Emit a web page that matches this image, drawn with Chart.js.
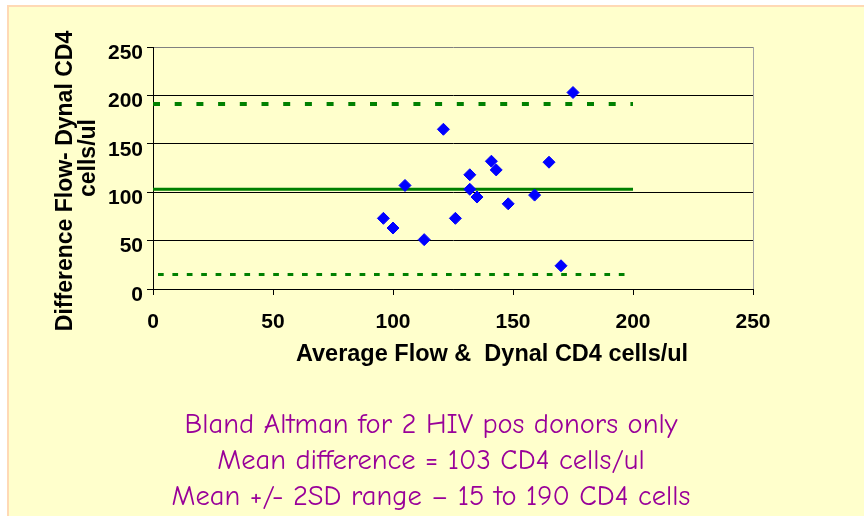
<!DOCTYPE html>
<html>
<head>
<meta charset="utf-8">
<script src="https://cdn.jsdelivr.net/npm/chart.js@4.4.1/dist/chart.umd.min.js"></script>
<style>
    html, body { margin: 0; padding: 0; background: #ffffff; }
    body { width: 864px; height: 516px; position: relative; overflow: hidden; }
    #panel {
        position: absolute; left: 7px; top: 5px; width: 880px; height: 530px;
        background: #FFFFCC;
        border-left: 2px solid #FFD9B5; border-top: 2px solid #FFD9B5;
    }
    #chartBox { position: absolute; left: 0; top: 0; width: 864px; height: 516px; }
    #caption {
        position: absolute; left: 0; top: 406px; width: 862px;
        text-align: center; color: #990099;
        font-family: "Comic Sans MS", "Comic Neue", "DejaVu Sans", sans-serif;
        font-size: 28.5px; line-height: 36px;
    }
</style>
</head>
<body>
<div id="panel"></div>
<div id="chartBox"><canvas id="baChart" width="864" height="516"></canvas></div>
<div id="caption">
    <div>Bland Altman for 2 HIV pos donors only</div>
    <div>Mean difference = 103 CD4 cells/ul</div>
    <div>Mean +/- 2SD range &ndash; 15 to 190 CD4 cells</div>
</div>
<script>
// --- data ---
const avgFlowDynal  = [175, 121, 141, 143, 165, 132, 105, 132, 135, 159, 148, 96, 100, 126, 113, 170];
const diffFlowDynal = [203, 165, 132, 123, 131, 118, 107, 103, 95, 97, 88, 73, 63, 73, 51, 24];
const meanDiff = 103;
const upperLimit = 191;
const lowerLimit = 15;
const limitRange = [0, 200];
const axisMin = 0, axisMax = 250, axisStep = 50;

const xTitle = 'Average Flow &  Dynal CD4 cells/ul';
const yTitle = ['Difference Flow- Dynal CD4', 'cells/ul'];

const points = avgFlowDynal.map((x, i) => ({ x: x, y: diffFlowDynal[i] }));
const hLine = (y) => limitRange.map(x => ({ x: x, y: y }));

const tickFont = { family: "'Liberation Sans', Arial, sans-serif", size: 21, weight: 'bold' };

// axis titles drawn by hand so they sit where the original put them
const axisTitles = {
    id: 'axisTitles',
    afterDraw(chart) {
        const { ctx, chartArea } = chart;
        ctx.save();
        ctx.fillStyle = '#000';
        ctx.textAlign = 'center';
        ctx.textBaseline = 'alphabetic';
        ctx.font = "bold 23.5px 'Liberation Sans', Arial, sans-serif";
        ctx.fillText(xTitle, chartArea.left + 339, 361);

        ctx.font = "bold 23px 'Liberation Sans', Arial, sans-serif";
        ctx.translate(72, 181);
        ctx.rotate(-Math.PI / 2);
        ctx.fillText(yTitle[0], 0, 0);
        ctx.restore();

        ctx.save();
        ctx.fillStyle = '#000';
        ctx.textAlign = 'center';
        ctx.font = "bold 23px 'Liberation Sans', Arial, sans-serif";
        ctx.translate(95, 158);
        ctx.rotate(-Math.PI / 2);
        ctx.fillText(yTitle[1], 0, 0);
        ctx.restore();
    }
};

new Chart(document.getElementById('baChart').getContext('2d'), {
    type: 'scatter',
    data: {
        datasets: [
            {
                label: 'Difference',
                data: points,
                pointStyle: 'rectRot',
                pointRadius: 6,
                pointBorderWidth: 1,
                backgroundColor: '#0000FF',
                borderColor: '#0000FF'
            },
            {
                type: 'line', label: 'Mean',
                data: hLine(meanDiff),
                borderColor: '#008000', borderWidth: 3,
                pointRadius: 0, fill: false
            },
            {
                type: 'line', label: 'Mean + 2SD',
                data: hLine(upperLimit),
                borderColor: '#008000', borderWidth: 4,
                borderDash: [7, 14.7], borderCapStyle: 'butt',
                pointRadius: 0, fill: false
            },
            {
                type: 'line', label: 'Mean - 2SD',
                data: hLine(lowerLimit),
                borderColor: '#008000', borderWidth: 3,
                borderDash: [5.7, 8.7], borderDashOffset: 9.4, borderCapStyle: 'butt',
                pointRadius: 0, fill: false
            }
        ]
    },
    options: {
        responsive: false,
        animation: false,
        layout: { padding: { top: 47, right: 111, left: 0, bottom: 0 } },
        plugins: { legend: { display: false }, tooltip: { enabled: false } },
        scales: {
            x: {
                min: axisMin, max: axisMax,
                ticks: { stepSize: axisStep, color: '#000', font: tickFont, padding: 15, maxRotation: 0 },
                grid: {
                    color: (c) => (c.tick && c.tick.value === axisMax) ? '#a6a6a6' : 'rgba(0,0,0,0)',
                    tickColor: '#000', tickLength: 6, lineWidth: 1
                },
                border: { display: true, color: '#000', width: 1 },
                afterFit: (scale) => { scale.height = 516 - 289; }
            },
            y: {
                min: axisMin, max: axisMax,
                ticks: { stepSize: axisStep, color: '#000', font: tickFont, padding: 4, labelOffset: 6 },
                grid: {
                    color: (c) => (c.tick && c.tick.value === axisMax) ? '#808080' : '#000',
                    tickColor: '#000', tickLength: 6, lineWidth: 1
                },
                border: { display: true, color: '#000', width: 1 },
                afterFit: (scale) => { scale.width = 153; }
            }
        }
    },
    plugins: [axisTitles]
});
</script>
</body>
</html>
